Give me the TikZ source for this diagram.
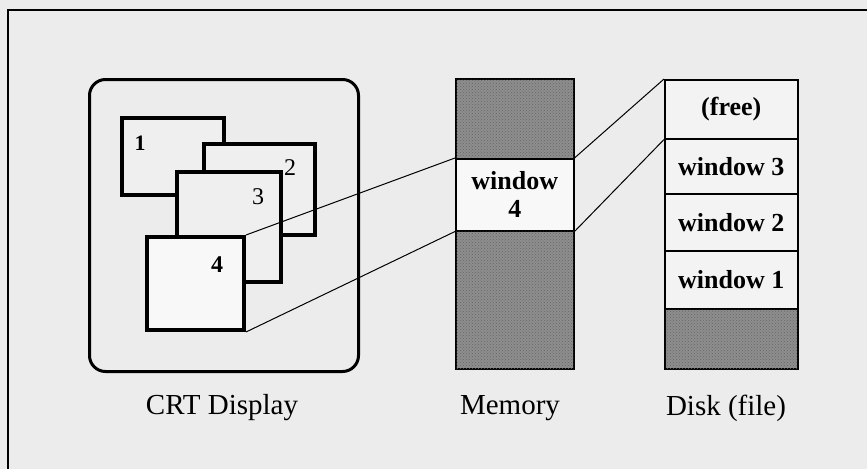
\documentclass[tikz,border=0pt]{standalone}
\usepackage{fontspec}
\setmainfont{Liberation Serif}
\usetikzlibrary{patterns}
\definecolor{bgcol}{HTML}{ECECEC}
\definecolor{winfill}{HTML}{EFEFEF}
\definecolor{win4fill}{HTML}{F8F8F8}
\definecolor{cellfill}{HTML}{F3F3F3}
\definecolor{shadefill}{HTML}{8E8E8E}
\begin{document}
\begin{tikzpicture}[x=1pt,y=-1pt,
  win/.style={draw, line width=4pt, fill=winfill, anchor=north west, inner sep=0pt},
  cell/.style={draw, line width=1.5pt, fill=cellfill, anchor=north west, inner sep=0pt,
     align=center, font=\bfseries\fontsize{26}{30}\selectfont},
  shadebox/.style={draw, line width=2pt, fill=shadefill, anchor=north west, inner sep=0pt,
     postaction={pattern=crosshatch dots, pattern color=black!60}},
  num/.style={font=\fontsize{24}{26}\selectfont},
  caption/.style={font=\fontsize{29}{32}\selectfont},
  link/.style={line width=1pt}]
\useasboundingbox (0,0) rectangle (867,469);
\fill[bgcol] (0,0) rectangle (867,469);
\draw[line width=1.2pt] (8,469) -- (8,10) -- (867,10);

% CRT display
\node[draw, line width=3pt, rounded corners=16pt, anchor=north west, inner sep=0pt,
      minimum width=269pt, minimum height=292pt] (crt) at (88,78) {};
\node[win, minimum width=102pt, minimum height=77pt] (w1) at (120,116) {};
\node[win, minimum width=111pt, minimum height=91pt] (w2) at (202,142) {};
\node[win, minimum width=104pt, minimum height=110pt] (w3) at (175,170) {};
\node[win, fill=win4fill, minimum width=97pt, minimum height=93pt] (w4) at (145,235) {};
\node[num, font=\bfseries\fontsize{22}{24}\selectfont] (n1) at (140,143) {1};
\node[num] (n2) at (290,168) {2};
\node[num] (n3) at (258,197) {3};
\node[num, font=\bfseries\fontsize{24}{26}\selectfont] (n4) at (217,265) {4};

% Memory
\node[shadebox, minimum width=118pt, minimum height=80pt] (mtop) at (455,78) {};
\node[cell, fill=win4fill, minimum width=118pt, minimum height=72pt] (mw4) at (455,158) {window\\[-2pt]4};
\node[shadebox, minimum width=118pt, minimum height=138pt] (mbot) at (455,230) {};

% Disk
\node[cell, minimum width=133pt, minimum height=59pt] (free) at (664,79) {(free)};
\node[cell, minimum width=133pt, minimum height=55pt] (d3) at (664,138) {window 3};
\node[cell, minimum width=133pt, minimum height=57pt] (d2) at (664,193) {window 2};
\node[cell, minimum width=133pt, minimum height=58pt] (d1) at (664,250) {window 1};
\node[shadebox, minimum width=133pt, minimum height=60pt] (dbot) at (664,308) {};

% connectors
\draw[link] (w4.north east) -- (mw4.north west);
\draw[link] (w4.south east) -- (mw4.south west);
\draw[link] (mw4.north east) -- (free.north west);
\draw[link] (mw4.south east) -- (free.south west);

% captions
\node[caption] (lcrt) at (222,408) {CRT Display};
\node[caption] (lmem) at (510,408) {Memory};
\node[caption] (ldisk) at (726,408) {Disk (file)};
\end{tikzpicture}
\end{document}
